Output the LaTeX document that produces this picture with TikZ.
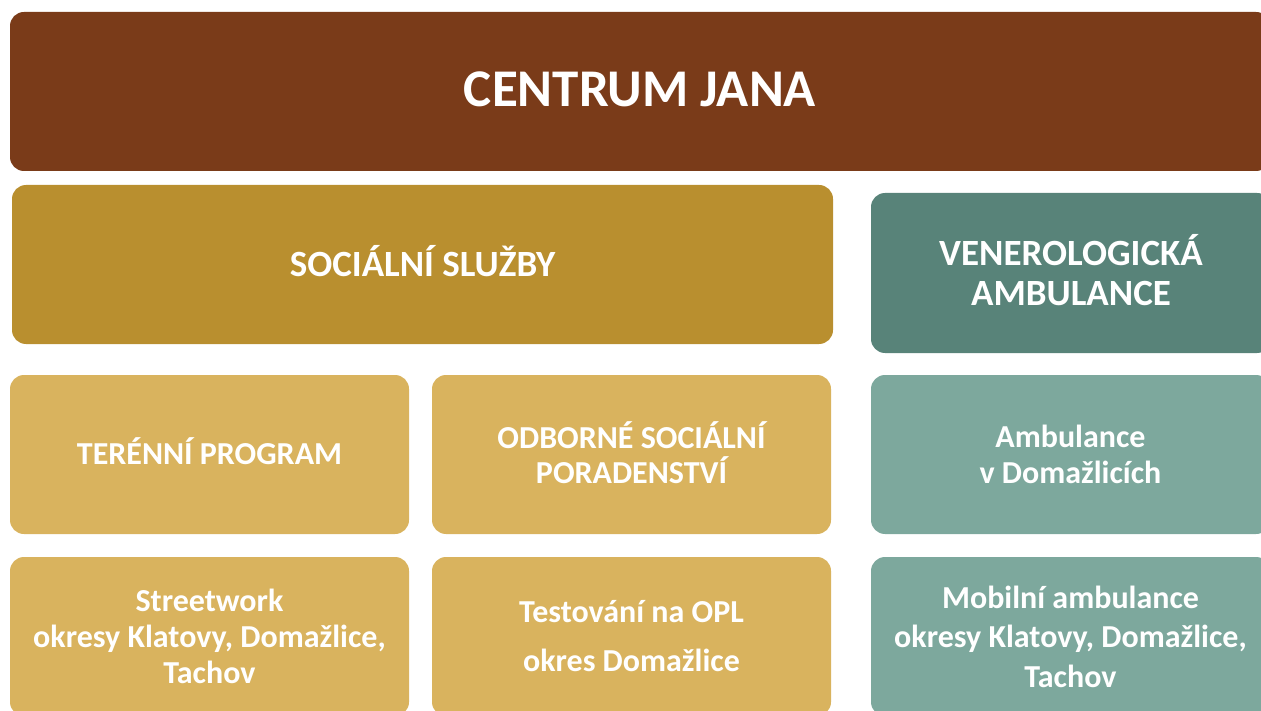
\documentclass[tikz,border=0pt]{standalone}
\usepackage{fontspec}
\setmainfont{Carlito}
\definecolor{cbrown}{HTML}{7A3B19}
\definecolor{cgold}{HTML}{B98F2F}
\definecolor{cteal}{HTML}{588379}
\definecolor{lgold}{HTML}{D9B35E}
\definecolor{lteal}{HTML}{7DA89D}
\tikzset{
  box/.style={draw=none, rounded corners=14pt, inner sep=0pt, minimum width=399pt, minimum height=159pt},
  lbl/.style={text=white, align=center, inner sep=0pt, font=\bfseries\fontsize{32}{36}\selectfont},
}
\begin{document}
\begin{tikzpicture}[x=1pt,y=-1pt]
\useasboundingbox (0,0) rectangle (1261,711);
\clip (0,0) rectangle (1261,711);
% boxes
\node[box, fill=cbrown, minimum width=1260pt] (top) at (640,91.5) {};
\node[box, fill=cgold, minimum width=821pt] (soc) at (422.5,264.5) {};
\node[box, fill=cteal, minimum width=400pt, minimum height=160pt] (ven) at (1071,273) {};
\node[box, fill=lgold] (ter) at (209.5,454.5) {};
\node[box, fill=lgold] (odb) at (631.5,454.5) {};
\node[box, fill=lteal] (amb) at (1070.5,454.5) {};
\node[box, fill=lgold] (str) at (209.5,636.5) {};
\node[box, fill=lgold] (tes) at (631.5,636.5) {};
\node[box, fill=lteal] (mob) at (1070.5,636.5) {};
% labels
\node[lbl, font=\bfseries\fontsize{53}{60}\selectfont] (ttop) at ([yshift=2pt]top.center) {CENTRUM JANA};
\node[lbl, font=\bfseries\fontsize{37}{41}\selectfont] (tsoc) at ([yshift=3.5pt]soc.center) {SOCIÁLNÍ SLUŽBY};
\node[lbl, font=\bfseries\fontsize{37}{40}\selectfont] (tven) at ([yshift=2.5pt]ven.center) {VENEROLOGICKÁ\\AMBULANCE};
\node[lbl] (tter) at ([yshift=3pt]ter.center) {TERÉNNÍ PROGRAM};
\node[lbl, font=\bfseries\fontsize{32}{35}\selectfont] (todb) at ([yshift=1.5pt]odb.center) {ODBORNÉ SOCIÁLNÍ\\PORADENSTVÍ};
\node[lbl] (tamb) at (amb.center) {Ambulance\\v Domažlicích};
\node[lbl] (tstr) at (str.center) {Streetwork\\okresy Klatovy, Domažlice,\\Tachov};
\node[lbl] (ttes) at (tes.center) {Testování na OPL\\[13pt]okres Domažlice};
\node[lbl, font=\bfseries\fontsize{32}{39.5}\selectfont] (tmob) at (mob.center) {Mobilní ambulance\\okresy Klatovy, Domažlice,\\Tachov};
\end{tikzpicture}
\end{document}
